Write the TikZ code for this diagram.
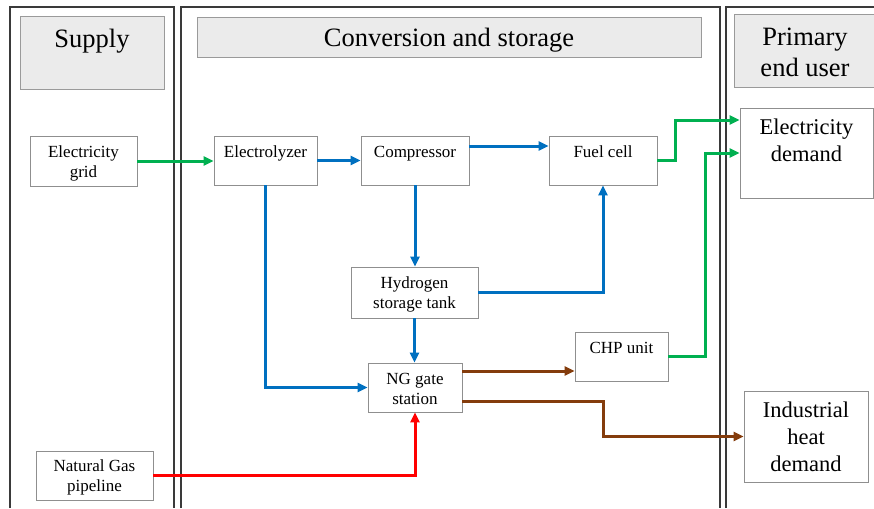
\documentclass[tikz,border=0pt]{standalone}
\usepackage{fontspec}
\setmainfont{Liberation Serif}
\usetikzlibrary{arrows.meta}
\definecolor{cgreen}{HTML}{00B050}
\definecolor{cblue}{HTML}{0070C0}
\definecolor{cred}{HTML}{FF0000}
\definecolor{cbrown}{HTML}{843C0C}
\definecolor{hdrfill}{HTML}{EBEBEB}
\definecolor{boxline}{HTML}{8F8F8F}
\definecolor{panelline}{HTML}{3A3A3A}
\begin{document}
\begin{tikzpicture}[x=1pt,y=-1pt,
  box/.style={draw=boxline, line width=0.9pt, fill=white, inner sep=0pt},
  txt/.style={align=center, inner sep=0pt, font=\fontsize{17}{20}\selectfont},
  bigtxt/.style={align=center, inner sep=0pt, font=\fontsize{22.5}{27}\selectfont},
  hdr/.style={draw=boxline!90, fill=hdrfill, line width=0.9pt, inner sep=0pt},
  hdrtxt/.style={align=center, inner sep=0pt, font=\fontsize{26.5}{31}\selectfont},
  panel/.style={draw=panelline, line width=1.1pt},
  flow/.style={line width=3pt, -{Triangle[length=10pt,width=9pt]}},
  gflow/.style={flow, draw=cgreen},
  bflow/.style={flow, draw=cblue},
  rflow/.style={flow, draw=cred},
  nflow/.style={flow, draw=cbrown}]
\useasboundingbox (0,0) rectangle (874,508);
\fill[white] (0,0) rectangle (874,508);

% panels
\draw[panel] (10,508) -- (10,7) -- (174,7) -- (174,508);
\draw[panel] (181,508) -- (181,7) -- (720,7) -- (720,508);
\draw[panel] (726,508) -- (726,7) -- (880,7);

% headers
\node[hdr, minimum width=144pt, minimum height=73pt,
  label={[hdrtxt, yshift=-1pt]center:{Supply\\\mbox{}}}] (hsup) at (92,52.5) {};
\node[hdr, minimum width=504pt, minimum height=40pt,
  label={[hdrtxt, yshift=-3.5pt]center:{Conversion and storage}}] (hconv) at (449,37) {};
\node[hdr, minimum width=142pt, minimum height=73pt,
  label={[hdrtxt, yshift=-2pt]center:{Primary\\end user}}] (hprim) at (805,50.5) {};

% boxes
\node[box, minimum width=107pt, minimum height=50pt,
  label={[txt, yshift=-2pt]center:{Electricity\\grid}}] (egrid) at (83.5,161) {};
\node[box, minimum width=103pt, minimum height=49pt,
  label={[txt, yshift=-1.5pt]center:{Electrolyzer\\\mbox{}}}] (elec) at (265.5,160.5) {};
\node[box, minimum width=108pt, minimum height=49pt,
  label={[txt, yshift=-1.5pt]center:{Compressor\\\mbox{}}}] (comp) at (415,160.5) {};
\node[box, minimum width=108pt, minimum height=49pt,
  label={[txt, yshift=-1.5pt]center:{Fuel cell\\\mbox{}}}] (fuel) at (603,160.5) {};
\node[box, minimum width=127pt, minimum height=51pt,
  label={[txt, yshift=-2pt]center:{Hydrogen\\storage tank}}] (tank) at (414.5,292.5) {};
\node[box, minimum width=94pt, minimum height=49pt,
  label={[txt, yshift=-1.5pt]center:{NG gate\\station}}] (ngs) at (415,387.5) {};
\node[box, minimum width=93pt, minimum height=49pt,
  label={[txt, yshift=-1.5pt]center:{CHP unit\\\mbox{}}}] (chp) at (621.5,356.5) {};
\node[box, minimum width=117pt, minimum height=49pt,
  label={[txt, yshift=-2pt]center:{Natural Gas\\pipeline}}] (ngp) at (94.5,475.5) {};
\node[box, minimum width=133pt, minimum height=90pt,
  label={[bigtxt, yshift=-1pt]center:{Electricity\\demand\\\mbox{}}}] (edem) at (806.5,153) {};
\node[box, minimum width=124pt, minimum height=91pt,
  label={[bigtxt, yshift=-0.5pt]center:{Industrial\\heat\\demand}}] (ihd) at (806,436.5) {};

% connectors
\draw[gflow] (egrid.east) -- (egrid.east -| elec.west);
\draw[bflow] (elec.east) -- (comp.west);
\draw[bflow] (comp.east |- 0,146) -- (fuel.west |- 0,146);
\draw[bflow] (comp.south) -- (comp.south |- tank.north);
\draw[bflow] (tank.east) -- (tank.east -| fuel.south) -- (fuel.south);
\draw[bflow] (tank.south) -- (tank.south |- ngs.north);
\draw[bflow] (elec.south) -- (elec.south |- ngs.west) -- (ngs.west);
\draw[rflow] (ngp.east) -- (ngp.east -| ngs.south) -- (ngs.south);
\draw[nflow] (ngs.east |- 0,371) -- (chp.west |- 0,371);
\draw[nflow] (ngs.east |- 0,401) -| (603,436.5) -- (ihd.west);
\draw[gflow] (fuel.east) -| (675,120) -- (edem.west |- 0,120);
\draw[gflow] (chp.east) -| (705,153) -- (edem.west |- 0,153);
\end{tikzpicture}
\end{document}
